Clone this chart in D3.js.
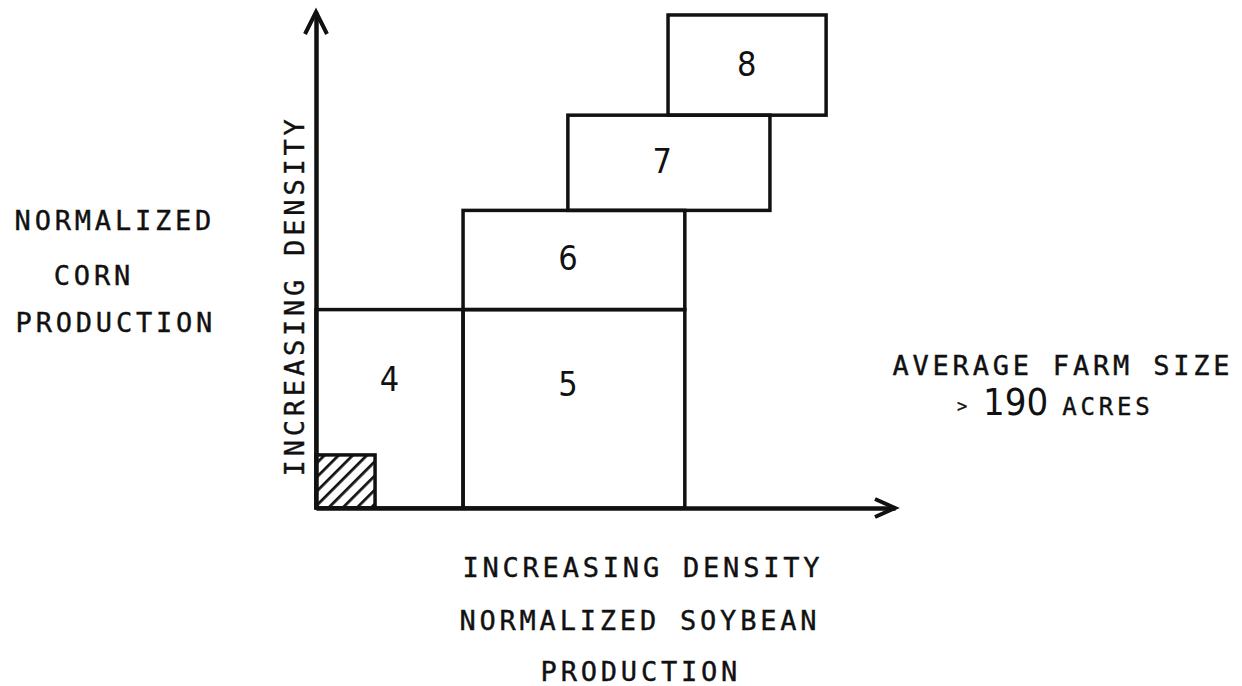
<!DOCTYPE html>
<html lang="en">
<head>
    <meta charset="UTF-8">
    <title>Corn / Soybean density classes</title>
    <script src="https://d3js.org/d3.v7.min.js"></script>
    <style>
        body { margin: 0; background: #fff; }
        .lbl { font-family: "DejaVu Sans Mono", monospace; font-size: 27px; fill: #111; letter-spacing: 3.8px; stroke: #111; stroke-width: 0.4px; }
        .num { font-family: "DejaVu Sans Condensed", "DejaVu Sans", sans-serif; font-size: 34px; fill: #111; }
    </style>
</head>
<body>
    <svg width="1242" height="686"></svg>
    <script type="text/javascript">

        // class boxes (relative density units, 0-100 on both axes)
        var classes = ["4", "5", "6", "7", "8"];
        var soyFrom = [0, 25.4, 25.4, 43.5, 60.8];
        var soyTo   = [25.4, 63.7, 63.7, 78.4, 88.1];
        var cornFrom = [0, 0, 40, 60, 79.2];
        var cornTo   = [40, 40, 60, 79.2, 99.4];
        // where the class number sits inside its box
        var numSoy  = [12.7, 43.5, 43.5, 59.8, 74.4];
        var numCorn = [26, 25, 50.5, 70, 89.5];

        // hatched low-density corner
        var hatchSoy = [0, 10.2];
        var hatchCorn = [0, 10.7];

        var LS = 3.8; // letter spacing of the typed labels

        var svg = d3.select("svg");

        var x = d3.scaleLinear().domain([0, 100]).range([316, 895]);
        var y = d3.scaleLinear().domain([0, 100]).range([508, 12]);

        // hatch pattern
        var pat = svg.append("defs").append("pattern")
            .attr("id", "hatch")
            .attr("patternUnits", "userSpaceOnUse")
            .attr("width", 10).attr("height", 10)
            .attr("patternTransform", "rotate(45)");
        pat.append("line")
            .attr("x1", 0).attr("y1", 0).attr("x2", 0).attr("y2", 10)
            .attr("stroke", "#111").attr("stroke-width", 5.5);

        svg.append("rect")
            .attr("x", x(hatchSoy[0]))
            .attr("y", y(hatchCorn[1]))
            .attr("width", x(hatchSoy[1]) - x(hatchSoy[0]))
            .attr("height", y(hatchCorn[0]) - y(hatchCorn[1]))
            .attr("fill", "url(#hatch)")
            .attr("stroke", "#111")
            .attr("stroke-width", 3.5);

        // boxes
        svg.selectAll("rect.box")
            .data(classes)
            .enter().append("rect")
            .attr("class", "box")
            .attr("x", function(d, i) { return x(soyFrom[i]); })
            .attr("y", function(d, i) { return y(cornTo[i]); })
            .attr("width", function(d, i) { return x(soyTo[i]) - x(soyFrom[i]); })
            .attr("height", function(d, i) { return y(cornFrom[i]) - y(cornTo[i]); })
            .attr("fill", "none")
            .attr("stroke", "#111")
            .attr("stroke-width", 3.5);

        svg.selectAll("text.num")
            .data(classes)
            .enter().append("text")
            .attr("class", "num")
            .attr("x", function(d, i) { return x(numSoy[i]); })
            .attr("y", function(d, i) { return y(numCorn[i]); })
            .attr("text-anchor", "middle")
            .attr("dominant-baseline", "central")
            .text(function(d) { return d; });

        // axes, no ticks
        svg.append("g")
            .attr("transform", "translate(0," + y(0) + ")")
            .call(d3.axisBottom(x).tickValues([]).tickSizeOuter(0))
            .select(".domain").attr("stroke", "#111").attr("stroke-width", 4.5);

        svg.append("g")
            .attr("transform", "translate(" + x(0) + ",0)")
            .call(d3.axisLeft(y).tickValues([]).tickSizeOuter(0))
            .select(".domain").attr("stroke", "#111").attr("stroke-width", 4.5);

        // arrow heads
        svg.append("path")
            .attr("d", "M" + (x(0) - 11) + "," + (y(100) + 22) + "L" + x(0) + "," + y(100) + "L" + (x(0) + 11) + "," + (y(100) + 22))
            .attr("fill", "none").attr("stroke", "#111").attr("stroke-width", 4);
        svg.append("path")
            .attr("d", "M" + (x(100) - 20) + "," + (y(0) - 9) + "L" + x(100) + "," + y(0) + "L" + (x(100) - 20) + "," + (y(0) + 9))
            .attr("fill", "none").attr("stroke", "#111").attr("stroke-width", 4);

        // y axis title (rotated)
        svg.append("text")
            .attr("class", "lbl")
            .attr("transform", "translate(304," + (294 + LS / 2) + ") rotate(-90)")
            .attr("text-anchor", "middle")
            .text("INCREASING DENSITY");

        // left labels
        var leftLines = ["NORMALIZED", "CORN", "PRODUCTION"];
        var leftX = [113, 92, 114];
        var leftY = [230, 285, 332];
        svg.selectAll("text.left")
            .data(leftLines)
            .enter().append("text")
            .attr("class", "lbl")
            .attr("x", function(d, i) { return leftX[i] + LS / 2; })
            .attr("y", function(d, i) { return leftY[i]; })
            .attr("text-anchor", "middle")
            .text(function(d) { return d; });

        // bottom labels
        var bottomLines = ["INCREASING DENSITY", "NORMALIZED SOYBEAN", "PRODUCTION"];
        var bottomX = [641, 638, 639];
        var bottomY = [577, 630, 681];
        svg.selectAll("text.bottom")
            .data(bottomLines)
            .enter().append("text")
            .attr("class", "lbl")
            .attr("x", function(d, i) { return bottomX[i] + LS / 2; })
            .attr("y", function(d, i) { return bottomY[i]; })
            .attr("text-anchor", "middle")
            .text(function(d) { return d; });

        // farm size note
        svg.append("text")
            .attr("class", "lbl")
            .attr("x", 1061 + LS / 2)
            .attr("y", 375)
            .attr("text-anchor", "middle")
            .text("AVERAGE FARM SIZE");

        var note = svg.append("text")
            .attr("class", "lbl")
            .attr("x", 957)
            .attr("y", 415)
            .attr("text-anchor", "start");
        note.append("tspan").style("font-size", "17px").attr("dy", -3).text(">");
        note.append("tspan").attr("class", "num").style("font-size", "38px").style("letter-spacing", "0px")
            .style("stroke-width", "0px").attr("dx", 12).attr("dy", 3).text("190");
        note.append("tspan").style("font-size", "24px").attr("dx", 14).text("ACRES");

    </script>
</body>
</html>
